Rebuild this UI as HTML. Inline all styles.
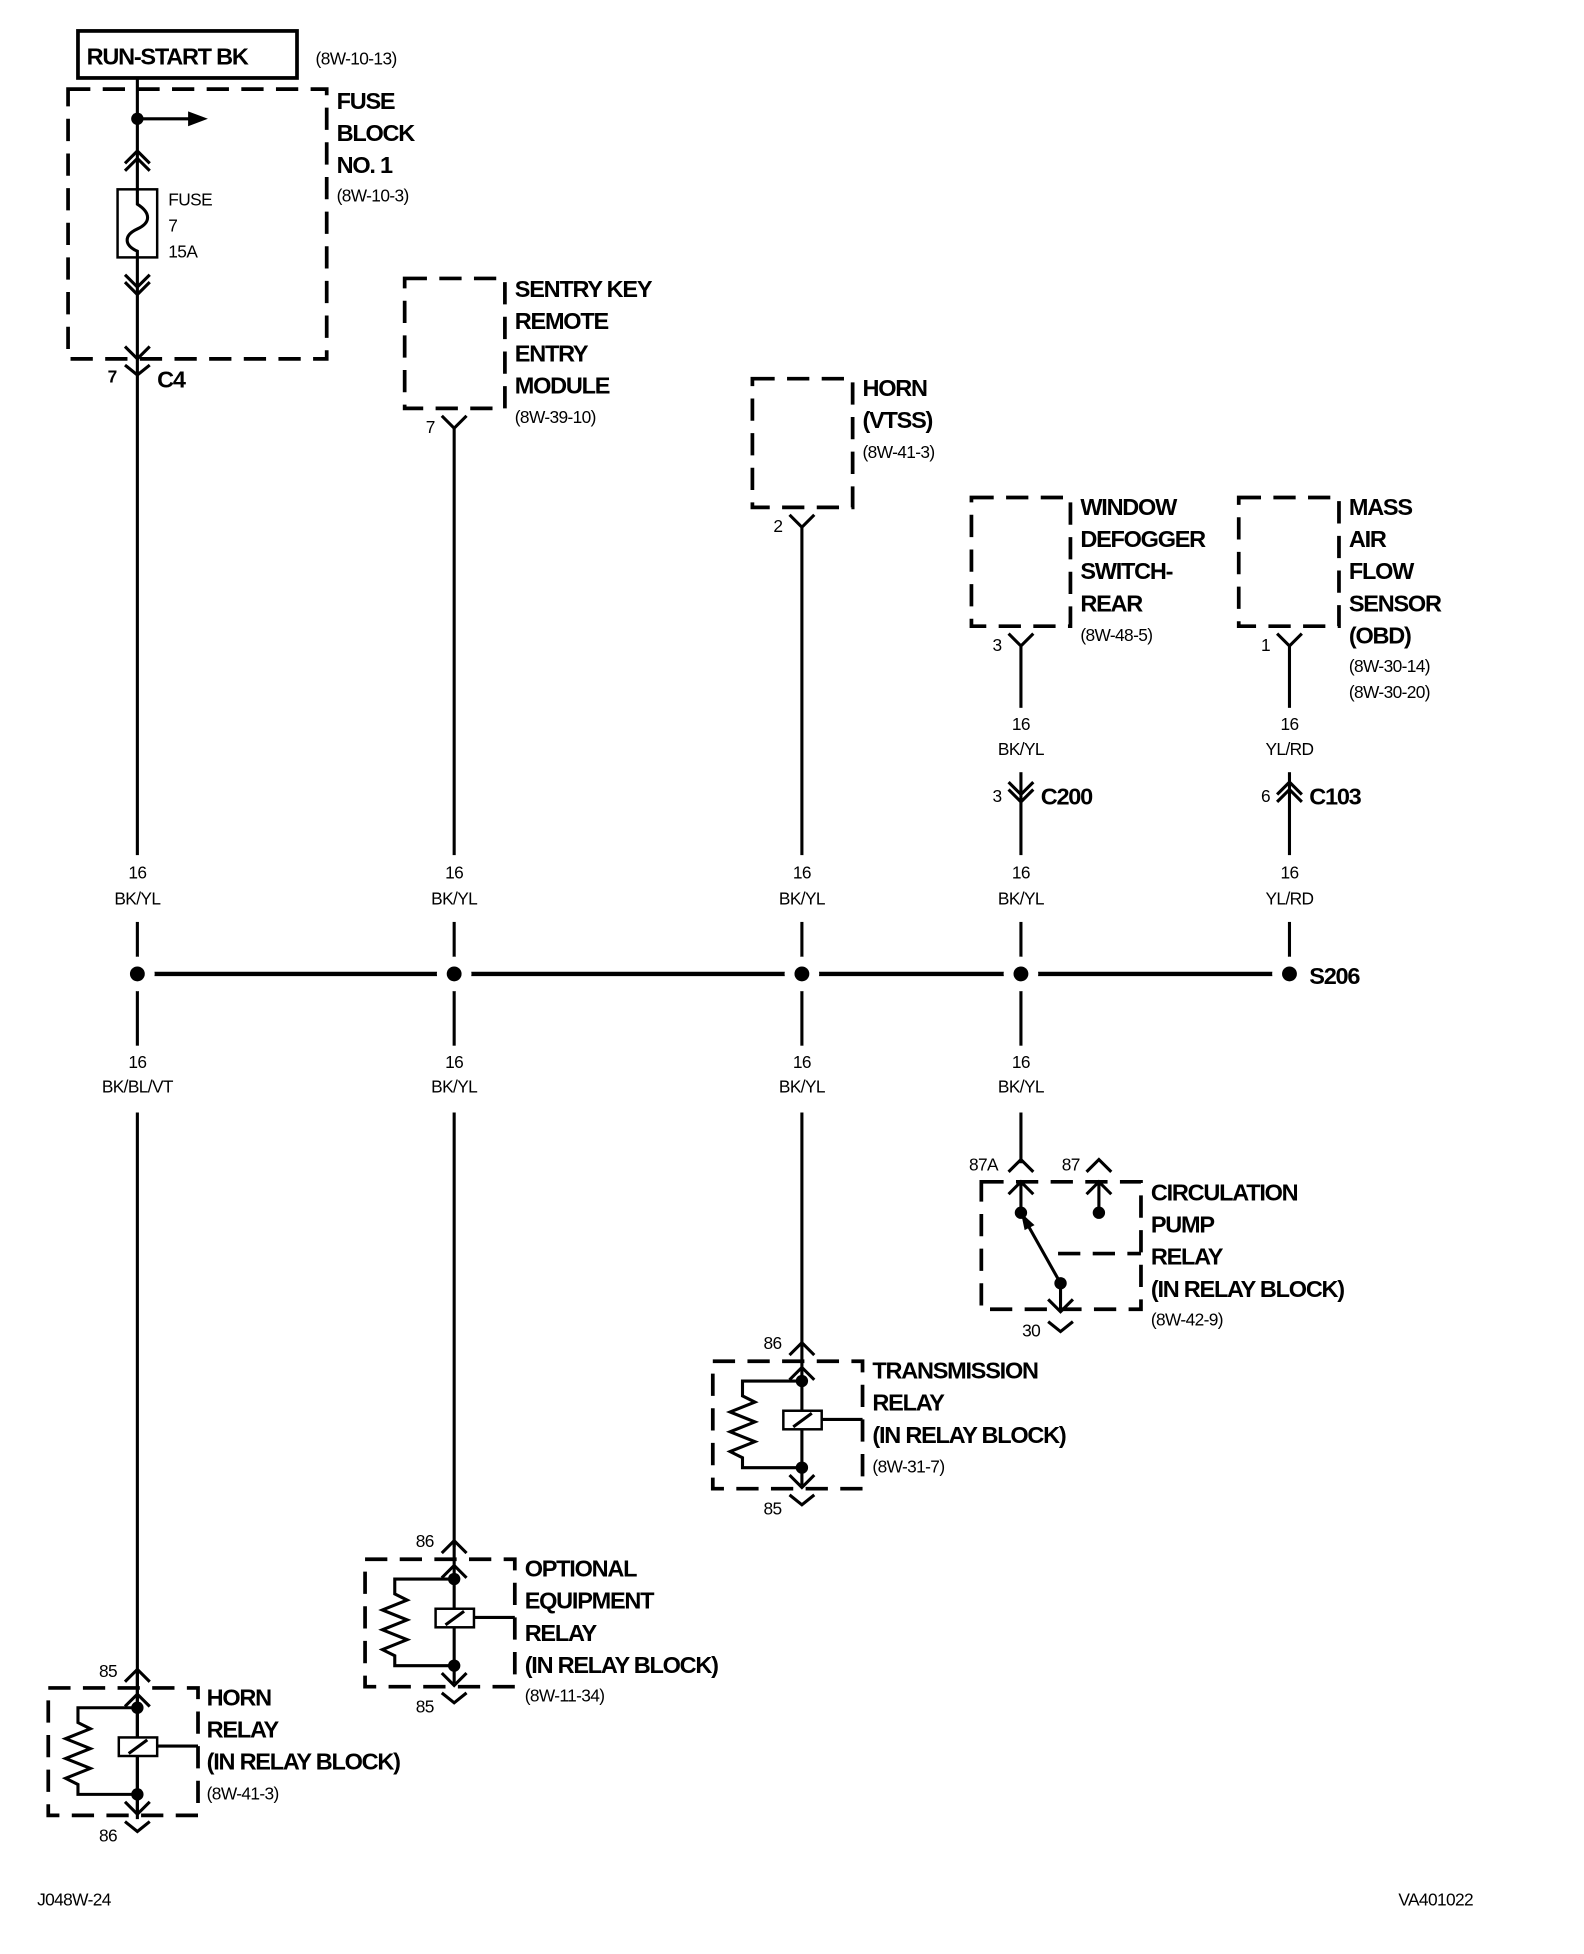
<!DOCTYPE html>
<html><head><meta charset="utf-8"><style>
html,body{margin:0;padding:0;background:#fff}
svg{display:block}
.b{font-family:"Liberation Sans",sans-serif;font-weight:bold;font-size:19px;letter-spacing:-1px;fill:#000}
.s{font-family:"Liberation Sans",sans-serif;font-size:14px;letter-spacing:-0.5px;fill:#000}
.d{fill:none;stroke:#000;stroke-width:3;stroke-dasharray:18 10}
.l{fill:none;stroke:#000;stroke-width:2.5}
</style></head><body>
<svg width="1584" height="1954" viewBox="0 0 1280 1579" xmlns="http://www.w3.org/2000/svg">
<defs>
<g id="relay">
<rect x="-72" y="0" width="121" height="103" class="d"/>
<path class="l" d="M-10,-5 L0,-15 L10,-5 M0,-15 L0,100 M-10,15 L0,5 L10,15 M-10,92 L0,102 L10,92 M-10,108 L0,116 L10,108"/>
<circle cx="0" cy="16" r="5"/><circle cx="0" cy="86" r="5"/>
<path class="l" d="M0,16 L-48,16 L-48,28 L-38,33 L-58,41 L-38,49 L-58,57 L-38,65 L-58,73 L-48,78 L-48,86 L0,86"/>
<rect x="-15" y="40" width="31" height="15" fill="#fff" stroke="#000" stroke-width="2"/>
<path class="l" d="M-7,53 L8,42 M16,47 L49,47"/>
</g>
</defs>
<!-- run start -->
<rect x="63" y="25" width="177" height="38" fill="none" stroke="#000" stroke-width="3"/>
<text x="70" y="52" class="b">RUN-START BK</text>
<text x="255" y="52" class="s">(8W-10-13)</text>
<rect x="55" y="72" width="209" height="218" class="d"/>
<text x="272" y="88" class="b">FUSE</text><text x="272" y="114" class="b">BLOCK</text><text x="272" y="140" class="b">NO. 1</text>
<text x="272" y="163" class="s">(8W-10-3)</text>
<path class="l" d="M111,63 L111,1470 M111,96 L155,96"/>
<polygon points="152,90 168,96 152,102"/>
<circle cx="111" cy="96" r="5"/>
<path class="l" d="M101,132 L111,122 L121,132 M101,138 L111,128 L121,138 M101,222 L111,232 L121,222 M101,228 L111,238 L121,228 M101,280 L111,290 L121,280 M101,295 L111,303 L121,295"/>
<rect x="95" y="153" width="32" height="55" fill="#fff" stroke="#000" stroke-width="2"/>
<path class="l" d="M111,153 L111,165 C122,172 122,180 111,185 C100,190 100,198 111,203 L111,208"/>
<text x="136" y="166" class="s">FUSE</text><text x="136" y="187" class="s">7</text><text x="136" y="208" class="s">15A</text>
<text x="87" y="309" class="s" font-weight="bold">7</text>
<text x="127" y="313" class="b">C4</text>
<!-- sentry -->
<rect x="327" y="225" width="81" height="105" class="d"/>
<text x="416" y="240" class="b">SENTRY KEY</text><text x="416" y="266" class="b">REMOTE</text><text x="416" y="292" class="b">ENTRY</text><text x="416" y="318" class="b">MODULE</text>
<text x="416" y="342" class="s">(8W-39-10)</text>
<text x="344" y="350" class="s">7</text>
<path class="l" d="M357,336 L367,346 L377,336 M367,346 L367,1250"/>
<!-- horn vtss -->
<rect x="608" y="306" width="81" height="104" class="d"/>
<text x="697" y="320" class="b">HORN</text><text x="697" y="346" class="b">(VTSS)</text>
<text x="697" y="370" class="s">(8W-41-3)</text>
<text x="625" y="430" class="s">2</text>
<path class="l" d="M638,416 L648,426 L658,416 M648,426 L648,1085"/>
<!-- window defogger -->
<rect x="785" y="402" width="80" height="104" class="d"/>
<text x="873" y="416" class="b">WINDOW</text><text x="873" y="442" class="b">DEFOGGER</text><text x="873" y="468" class="b">SWITCH-</text><text x="873" y="494" class="b">REAR</text>
<text x="873" y="518" class="s">(8W-48-5)</text>
<text x="802" y="526" class="s">3</text>
<path class="l" d="M815,512 L825,522 L835,512 M825,522 L825,940 M815,632 L825,642 L835,632 M815,638 L825,648 L835,638"/>
<text x="802" y="648" class="s">3</text><text x="841" y="650" class="b">C200</text>
<!-- mass air -->
<rect x="1001" y="402" width="81" height="104" class="d"/>
<text x="1090" y="416" class="b">MASS</text><text x="1090" y="442" class="b">AIR</text><text x="1090" y="468" class="b">FLOW</text><text x="1090" y="494" class="b">SENSOR</text><text x="1090" y="520" class="b">(OBD)</text>
<text x="1090" y="543" class="s">(8W-30-14)</text><text x="1090" y="564" class="s">(8W-30-20)</text>
<text x="1019" y="526" class="s">1</text>
<path class="l" d="M1032,512 L1042,522 L1052,512 M1042,522 L1042,787 M1032,642 L1042,632 L1052,642 M1032,648 L1042,638 L1052,648"/>
<text x="1019" y="648" class="s">6</text><text x="1058" y="650" class="b">C103</text>
<!-- bus -->
<path d="M111,787 L1042,787" stroke="#000" stroke-width="3.5"/>
<g fill="#fff">
<circle cx="111" cy="787" r="14"/><circle cx="367" cy="787" r="14"/><circle cx="648" cy="787" r="14"/><circle cx="825" cy="787" r="14"/><circle cx="1042" cy="787" r="14"/>
<rect x="70" y="691" width="82" height="54"/><rect x="326" y="691" width="82" height="54"/><rect x="607" y="691" width="82" height="54"/><rect x="784" y="691" width="82" height="54"/><rect x="1001" y="691" width="82" height="54"/>
<rect x="70" y="845" width="82" height="54"/><rect x="326" y="845" width="82" height="54"/><rect x="607" y="845" width="82" height="54"/><rect x="784" y="845" width="82" height="54"/>
<rect x="784" y="572" width="82" height="52"/><rect x="1001" y="572" width="82" height="52"/>
</g>
<g fill="#000"><circle cx="111" cy="787" r="6"/><circle cx="367" cy="787" r="6"/><circle cx="648" cy="787" r="6"/><circle cx="825" cy="787" r="6"/><circle cx="1042" cy="787" r="6"/></g>
<text x="1058" y="795" class="b">S206</text>
<g class="s" text-anchor="middle">
<text x="825" y="590">16</text><text x="825" y="610">BK/YL</text>
<text x="1042" y="590">16</text><text x="1042" y="610">YL/RD</text>
<text x="111" y="710">16</text><text x="111" y="731">BK/YL</text>
<text x="367" y="710">16</text><text x="367" y="731">BK/YL</text>
<text x="648" y="710">16</text><text x="648" y="731">BK/YL</text>
<text x="825" y="710">16</text><text x="825" y="731">BK/YL</text>
<text x="1042" y="710">16</text><text x="1042" y="731">YL/RD</text>
<text x="111" y="863">16</text><text x="111" y="883">BK/BL/VT</text>
<text x="367" y="863">16</text><text x="367" y="883">BK/YL</text>
<text x="648" y="863">16</text><text x="648" y="883">BK/YL</text>
<text x="825" y="863">16</text><text x="825" y="883">BK/YL</text>
</g>
<!-- circulation pump relay -->
<path class="d" d="M793,955 L922,955 L922,1058 L793,1058 Z M855,1013 L922,1013"/>
<path class="l" d="M815,947 L825,937 L835,947 M815,965 L825,955 L835,965 M825,955 L825,980 M878,947 L888,937 L898,947 M878,965 L888,955 L898,965 M888,955 L888,980 M825,980 L857,1037 L857,1060 M847,1050 L857,1060 L867,1050 M847,1068 L857,1076 L867,1068"/>
<polygon points="825,980 836,990 828,994"/>
<circle cx="825" cy="980" r="5"/><circle cx="888" cy="980" r="5"/><circle cx="857" cy="1037" r="5"/>
<text x="783" y="946" class="s">87A</text><text x="858" y="946" class="s">87</text>
<text x="826" y="1080" class="s">30</text>
<text x="930" y="970" class="b">CIRCULATION</text><text x="930" y="996" class="b">PUMP</text><text x="930" y="1022" class="b">RELAY</text><text x="930" y="1048" class="b">(IN RELAY BLOCK)</text>
<text x="930" y="1071" class="s">(8W-42-9)</text>
<!-- relays -->
<use href="#relay" x="648" y="1100"/>
<text x="617" y="1090" class="s">86</text><text x="617" y="1224" class="s">85</text>
<text x="705" y="1114" class="b">TRANSMISSION</text><text x="705" y="1140" class="b">RELAY</text><text x="705" y="1166" class="b">(IN RELAY BLOCK)</text><text x="705" y="1190" class="s">(8W-31-7)</text>
<use href="#relay" x="367" y="1260"/>
<text x="336" y="1250" class="s">86</text><text x="336" y="1384" class="s">85</text>
<text x="424" y="1274" class="b">OPTIONAL</text><text x="424" y="1300" class="b">EQUIPMENT</text><text x="424" y="1326" class="b">RELAY</text><text x="424" y="1352" class="b">(IN RELAY BLOCK)</text><text x="424" y="1375" class="s">(8W-11-34)</text>
<use href="#relay" x="111" y="1364"/>
<text x="80" y="1355" class="s">85</text><text x="80" y="1488" class="s">86</text>
<text x="167" y="1378" class="b">HORN</text><text x="167" y="1404" class="b">RELAY</text><text x="167" y="1430" class="b">(IN RELAY BLOCK)</text><text x="167" y="1454" class="s">(8W-41-3)</text>
<text x="30" y="1540" class="s">J048W-24</text>
<text x="1130" y="1540" class="s">VA401022</text>
</svg>
</body></html>
